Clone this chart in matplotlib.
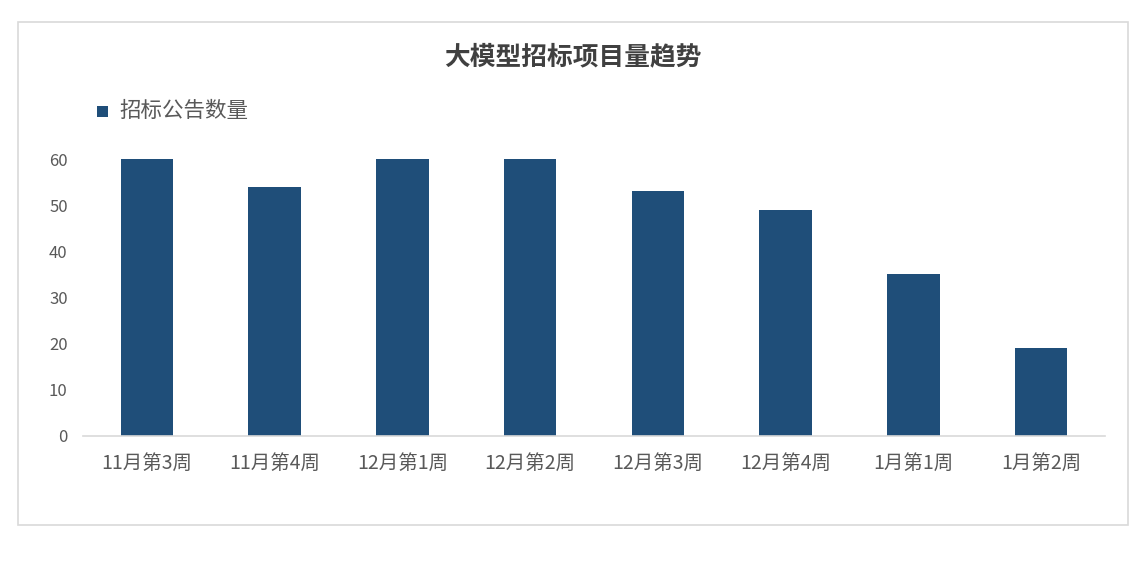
import matplotlib
matplotlib.use("Agg")
import matplotlib.pyplot as plt
from matplotlib.patches import Rectangle

plt.rcParams['font.family'] = ['Noto Sans CJK SC', 'DejaVu Sans']

categories = ["11月第3周", "11月第4周", "12月第1周", "12月第2周",
              "12月第3周", "12月第4周", "1月第1周", "1月第2周"]
counts = [60, 54, 60, 60, 53, 49, 35, 19]
yticks = [0, 10, 20, 30, 40, 50, 60]
title = "大模型招标项目量趋势"
series_name = "招标公告数量"

W, H = 1148, 561
fig = plt.figure(figsize=(W / 100, H / 100), dpi=100)
fig.patch.set_facecolor("white")

# chart border
fig.patches.append(Rectangle((18 / W, 1 - 525 / H), (1128 - 18) / W, (525 - 22) / H,
                             transform=fig.transFigure, fill=False,
                             edgecolor="#D9D9D9", linewidth=1.2))

ax_left, ax_right = 83 / W, 1105 / W
ax_bottom = 1 - 436 / H
ax_top = 1 - 159 / H
ax = fig.add_axes([ax_left, ax_bottom, ax_right - ax_left, ax_top - ax_bottom])

x = list(range(len(categories)))
ax.bar(x, counts, width=0.41, color="#1F4E79", clip_on=False, label=series_name)
ax.set_xlim(-0.5, len(categories) - 0.5)
ax.set_ylim(0, 60)
ax.set_yticks(yticks)
ax.set_xticks(x)
ax.set_xticklabels(categories)

for s in ["top", "right", "left"]:
    ax.spines[s].set_visible(False)
ax.spines["bottom"].set_color("#D9D9D9")
ax.spines["bottom"].set_linewidth(1.2)
ax.tick_params(axis="both", length=0, colors="#595959")
ax.tick_params(axis="x", labelsize=14, pad=12)
ax.tick_params(axis="y", labelsize=12, pad=11)

fig.text(573 / W, 1 - 57 / H, title, ha="center", va="center",
         fontsize=18.5, fontweight="bold", color="#404040")

# legend
fig.patches.append(Rectangle((97 / W, 1 - 117 / H), 11 / W, 11 / H,
                             transform=fig.transFigure, facecolor="#1F4E79",
                             edgecolor="none"))
fig.text(119 / W, 1 - 111 / H, series_name, ha="left", va="center",
         fontsize=15.5, color="#595959")

fig.savefig("out.png", dpi=100, facecolor="white")
